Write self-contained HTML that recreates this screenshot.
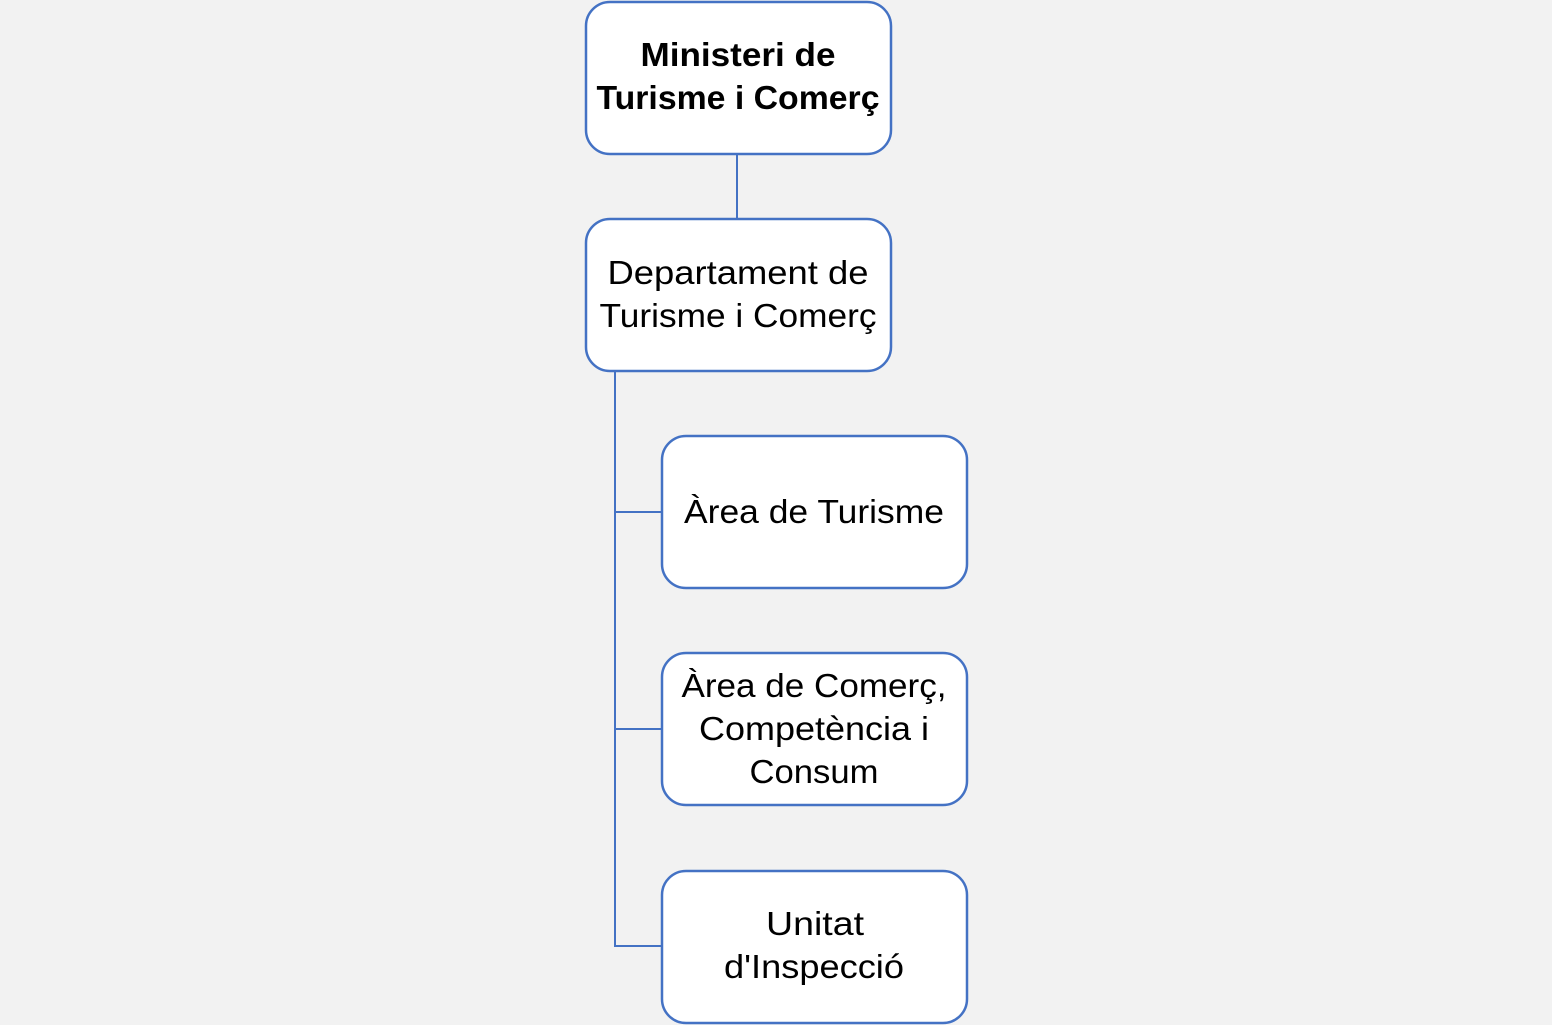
<!DOCTYPE html>
<html><head><meta charset="utf-8"><style>
html,body{margin:0;padding:0;background:#f2f2f2;}
svg{display:block}
text{font-family:"Liberation Sans",sans-serif;font-size:33px;fill:#000;text-anchor:middle}
</style></head><body>
<svg width="1552" height="1025" viewBox="0 0 1552 1025">
<rect width="1552" height="1025" fill="#f2f2f2"/>
<g stroke="#4472c4" stroke-width="2" fill="none">
<line x1="737" y1="155" x2="737" y2="218"/>
<polyline points="615,372 615,946 661,946"/>
<line x1="615" y1="512" x2="661" y2="512"/>
<line x1="615" y1="729" x2="661" y2="729"/>
</g>
<g stroke="#4472c4" stroke-width="2.5" fill="#fff">
<rect x="586" y="2" width="305" height="152" rx="24"/>
<rect x="586" y="219" width="305" height="152" rx="24"/>
<rect x="662" y="436" width="305" height="152" rx="24"/>
<rect x="662" y="653" width="305" height="152" rx="24"/>
<rect x="662" y="871" width="305" height="152" rx="24"/>
</g>
<g lengthAdjust="spacingAndGlyphs">
<text x="738" y="66" font-weight="bold" textLength="195" lengthAdjust="spacingAndGlyphs">Ministeri de</text>
<text x="738" y="109" font-weight="bold" textLength="283" lengthAdjust="spacingAndGlyphs">Turisme i Comerç</text>
<text x="738" y="284" textLength="261" lengthAdjust="spacingAndGlyphs">Departament de</text>
<text x="738" y="327" textLength="277" lengthAdjust="spacingAndGlyphs">Turisme i Comerç</text>
<text x="814" y="523" textLength="260" lengthAdjust="spacingAndGlyphs">Àrea de Turisme</text>
<text x="814" y="697" textLength="265" lengthAdjust="spacingAndGlyphs">Àrea de Comerç,</text>
<text x="814" y="740" textLength="230" lengthAdjust="spacingAndGlyphs">Competència i</text>
<text x="814" y="783" textLength="129" lengthAdjust="spacingAndGlyphs">Consum</text>
<text x="815" y="935" textLength="98" lengthAdjust="spacingAndGlyphs">Unitat</text>
<text x="814" y="978" textLength="180" lengthAdjust="spacingAndGlyphs">d'Inspecció</text>
</g>
</svg>
</body></html>
